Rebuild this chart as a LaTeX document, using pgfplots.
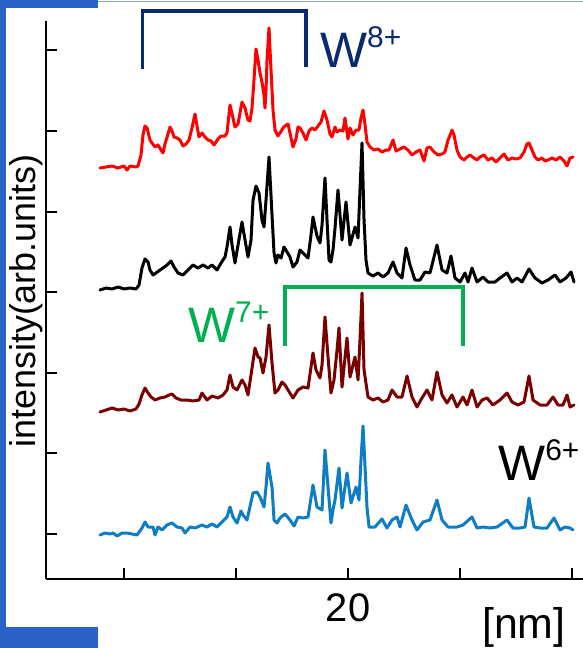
\documentclass[border=0pt]{standalone}
\usepackage{fontspec}
\setmainfont{Liberation Sans}
\usepackage{pgfplots}
\pgfplotsset{compat=1.18}
\definecolor{slideblue}{RGB}{42,98,200}
\definecolor{topline}{RGB}{140,165,200}
\definecolor{wnavy}{RGB}{8,42,110}
\definecolor{wgreen}{RGB}{0,176,80}
\definecolor{cred}{RGB}{255,0,0}
\definecolor{cdark}{RGB}{122,0,0}
\definecolor{cblue}{RGB}{15,125,195}
\newcommand{\Wlab}[1]{{\fontsize{50}{50}\selectfont W}{\fontsize{30}{30}\selectfont\raisebox{20bp}{#1}}}
\pgfplotsset{spec/.style={line width=3bp, line join=round, line cap=round, mark=none}}
\begin{document}
\begin{tikzpicture}
\useasboundingbox (-46bp,-69bp) rectangle (537bp,579bp);
\fill[white] (-46bp,-69bp) rectangle (537bp,579bp);
\fill[slideblue] (-46bp,-69bp) rectangle (-40bp,579bp);
\fill[slideblue] (-46bp,-69bp) rectangle (52bp,-48bp);
\fill[slideblue] (-46bp,571bp) rectangle (52bp,579bp);
\draw[topline,line width=1.2bp] (52bp,577.5bp) -- (537bp,577.5bp);
\begin{axis}[
  x=56bp, y=1bp,
  xmin=14.607, xmax=24.196, ymin=0, ymax=558,
  axis x line=bottom, axis y line=left,
  axis line style={-, line width=2bp, black},
  tick align=inside,
  major tick length=11bp,
  tick style={line width=1.6bp, black},
  xtick={16,18,20,22,24}, xticklabels={,,20,,},
  ytick={45,126,206,287,367,448,529}, yticklabels={},
  /pgf/number format/assume math mode=true,
  xticklabel style={anchor=base, yshift=-42bp, font=\fontsize{40}{40}\selectfont},
  xlabel={[nm]},
  xlabel style={at={(axis cs:22.393,-59)}, anchor=base west, inner sep=0pt, font=\fontsize{43}{43}\selectfont},
  clip=false,
]
% W8+ (red)
\addplot[cred, spec] coordinates {(15.571,411) (15.679,412) (15.786,413) (15.893,411) (16.000,413) (16.054,409) (16.107,413) (16.214,412) (16.250,413) (16.304,424) (16.339,444) (16.375,453) (16.411,451) (16.464,439) (16.500,436) (16.554,432) (16.607,434) (16.661,429) (16.696,426) (16.732,435) (16.786,445) (16.821,452) (16.857,448) (16.893,442) (16.946,441) (17.000,439) (17.054,433) (17.107,435) (17.161,439) (17.214,451) (17.268,465) (17.304,453) (17.339,442) (17.393,446) (17.446,442) (17.500,439) (17.554,438) (17.607,434) (17.679,440) (17.732,443) (17.804,443) (17.839,446) (17.893,474) (17.946,461) (17.982,452) (18.036,455) (18.107,477) (18.161,471) (18.214,459) (18.250,458) (18.286,471) (18.321,499) (18.357,530) (18.393,519) (18.429,506) (18.464,497) (18.500,484) (18.518,471) (18.536,489) (18.554,519) (18.589,551) (18.625,509) (18.661,469) (18.696,449) (18.750,443) (18.786,446) (18.839,451) (18.875,453) (18.929,455) (18.964,446) (19.018,432) (19.071,440) (19.107,452) (19.143,451) (19.196,446) (19.250,439) (19.304,448) (19.357,451) (19.411,449) (19.464,453) (19.518,457) (19.571,468) (19.625,459) (19.679,445) (19.714,442) (19.768,452) (19.804,447) (19.857,449) (19.911,448) (19.946,461) (20.000,440) (20.036,451) (20.089,444) (20.143,449) (20.196,449) (20.232,461) (20.268,469) (20.304,454) (20.339,437) (20.393,432) (20.464,429) (20.536,430) (20.607,427) (20.679,429) (20.732,429) (20.804,439) (20.857,428) (20.929,430) (21.000,432) (21.071,429) (21.143,424) (21.214,427) (21.286,429) (21.357,418) (21.411,431) (21.464,432) (21.536,427) (21.607,424) (21.679,425) (21.732,427) (21.786,439) (21.839,446) (21.857,449) (21.893,444) (21.946,429) (22.000,422) (22.071,419) (22.125,422) (22.179,424) (22.250,421) (22.304,419) (22.357,422) (22.429,424) (22.500,419) (22.571,421) (22.643,417) (22.714,421) (22.786,425) (22.857,419) (22.929,421) (23.000,420) (23.071,421) (23.143,427) (23.196,435) (23.232,436) (23.286,429) (23.339,422) (23.393,419) (23.464,421) (23.518,418) (23.571,419) (23.643,421) (23.714,419) (23.786,422) (23.857,418) (23.911,413) (23.964,421) (24.018,422)};
% black
\addplot[black, spec] coordinates {(15.571,289) (15.679,291) (15.786,290) (15.893,292) (16.000,290) (16.107,291) (16.214,290) (16.268,294) (16.321,311) (16.375,320) (16.429,317) (16.464,309) (16.518,304) (16.571,306) (16.643,309) (16.696,311) (16.768,314) (16.839,318) (16.893,312) (16.964,306) (17.054,304) (17.143,309) (17.232,314) (17.321,311) (17.411,314) (17.500,311) (17.571,314) (17.661,309) (17.732,316) (17.804,322) (17.839,332) (17.893,352) (17.929,334) (17.982,316) (18.036,334) (18.107,357) (18.161,339) (18.214,322) (18.268,339) (18.304,379) (18.357,393) (18.411,386) (18.464,359) (18.500,352) (18.536,379) (18.589,422) (18.643,364) (18.679,326) (18.714,316) (18.750,324) (18.804,321) (18.857,332) (18.911,327) (18.964,322) (19.018,312) (19.089,317) (19.143,329) (19.196,326) (19.286,321) (19.339,344) (19.375,362) (19.446,343) (19.500,336) (19.536,354) (19.589,401) (19.625,359) (19.661,319) (19.696,317) (19.732,329) (19.768,351) (19.821,389) (19.893,339) (19.964,377) (20.036,334) (20.125,352) (20.179,341) (20.214,389) (20.250,436) (20.286,359) (20.321,319) (20.357,306) (20.446,303) (20.536,306) (20.625,302) (20.714,306) (20.804,317) (20.875,306) (20.964,301) (21.036,331) (21.107,314) (21.196,299) (21.286,299) (21.375,307) (21.464,306) (21.589,334) (21.679,309) (21.768,306) (21.839,323) (21.911,301) (22.000,297) (22.089,306) (22.143,297) (22.214,311) (22.304,297) (22.411,302) (22.500,297) (22.625,297) (22.714,301) (22.839,306) (22.929,297) (23.018,301) (23.107,297) (23.232,310) (23.339,301) (23.464,296) (23.571,299) (23.696,304) (23.786,297) (23.893,301) (23.982,307) (24.036,297)};
% W7+ (dark red)
\addplot[cdark, spec] coordinates {(15.571,167) (15.679,169) (15.786,171) (15.893,169) (16.000,170) (16.107,168) (16.214,170) (16.268,175) (16.321,184) (16.375,191) (16.429,186) (16.482,182) (16.554,179) (16.643,181) (16.732,182) (16.804,184) (16.857,185) (16.929,181) (17.018,179) (17.125,179) (17.232,178) (17.339,179) (17.393,186) (17.482,179) (17.571,183) (17.679,181) (17.768,184) (17.839,189) (17.893,204) (17.946,192) (18.018,189) (18.107,199) (18.161,194) (18.214,184) (18.268,204) (18.339,231) (18.393,222) (18.429,221) (18.482,206) (18.536,222) (18.589,254) (18.643,216) (18.696,186) (18.750,189) (18.821,197) (18.875,194) (18.929,189) (19.018,181) (19.107,189) (19.196,192) (19.286,191) (19.375,226) (19.429,209) (19.500,201) (19.536,214) (19.589,262) (19.643,222) (19.696,186) (19.750,199) (19.804,229) (19.839,251) (19.893,192) (19.982,241) (20.036,202) (20.125,222) (20.179,199) (20.214,239) (20.250,286) (20.286,209) (20.357,182) (20.446,179) (20.536,181) (20.625,177) (20.714,179) (20.786,189) (20.875,182) (20.964,182) (21.054,203) (21.143,182) (21.232,172) (21.321,181) (21.411,189) (21.500,179) (21.589,207) (21.679,184) (21.768,176) (21.857,184) (21.946,172) (22.054,182) (22.125,174) (22.214,189) (22.304,172) (22.393,179) (22.482,181) (22.589,174) (22.714,179) (22.839,186) (22.929,177) (23.036,174) (23.143,177) (23.232,203) (23.304,179) (23.429,174) (23.554,174) (23.661,182) (23.750,174) (23.839,174) (23.911,184) (23.964,172) (24.036,174)};
% W6+ (blue)
\addplot[cblue, spec] coordinates {(15.571,44) (15.661,46) (15.750,45) (15.804,46) (15.875,43) (15.964,46) (16.054,46) (16.143,45) (16.232,44) (16.321,51) (16.375,57) (16.429,52) (16.518,52) (16.554,44) (16.607,52) (16.679,49) (16.768,54) (16.857,56) (16.946,52) (17.036,51) (17.089,46) (17.179,52) (17.268,51) (17.393,54) (17.482,52) (17.571,55) (17.661,52) (17.750,57) (17.839,62) (17.893,72) (17.946,62) (18.018,56) (18.089,68) (18.125,64) (18.196,59) (18.304,86) (18.375,87) (18.429,82) (18.500,72) (18.536,92) (18.571,116) (18.643,92) (18.679,59) (18.732,56) (18.786,61) (18.875,65) (18.964,59) (19.036,53) (19.107,62) (19.196,61) (19.286,62) (19.375,94) (19.446,72) (19.536,69) (19.589,129) (19.643,92) (19.696,56) (19.732,69) (19.768,79) (19.839,111) (19.893,71) (19.982,106) (20.054,76) (20.143,92) (20.196,79) (20.232,119) (20.268,153) (20.339,72) (20.375,52) (20.482,52) (20.607,60) (20.696,51) (20.786,59) (20.875,62) (20.929,52) (21.036,74) (21.143,59) (21.232,49) (21.339,57) (21.464,59) (21.589,79) (21.679,59) (21.786,52) (21.946,52) (22.054,54) (22.214,62) (22.304,51) (22.411,52) (22.536,51) (22.661,52) (22.839,59) (22.946,51) (23.071,51) (23.161,52) (23.232,81) (23.321,52) (23.429,51) (23.554,51) (23.679,61) (23.786,49) (23.875,52) (23.964,51) (24.018,49)};
% ion brackets and labels
\draw[wnavy, line width=3.2bp] (axis cs:16.334,510) -- (axis cs:16.334,568) -- (axis cs:19.250,568) -- (axis cs:19.250,512);
\node[wnavy, anchor=base west, inner sep=0pt] at (axis cs:19.500,512) {\Wlab{8+}};
\draw[wgreen, line width=3.4bp] (axis cs:18.875,233) -- (axis cs:18.875,292) -- (axis cs:22.054,292) -- (axis cs:22.054,233);
\node[wgreen, anchor=base west, inner sep=0pt] at (axis cs:17.143,237) {\Wlab{7+}};
\node[black, anchor=base west, inner sep=0pt] at (axis cs:22.680,99) {\Wlab{6+}};
\node[rotate=90, anchor=base, inner sep=0pt, font=\fontsize{36}{36}\selectfont] at (axis cs:14.418,278) {intensity(arb.units)};
\end{axis}
\end{tikzpicture}
\end{document}
